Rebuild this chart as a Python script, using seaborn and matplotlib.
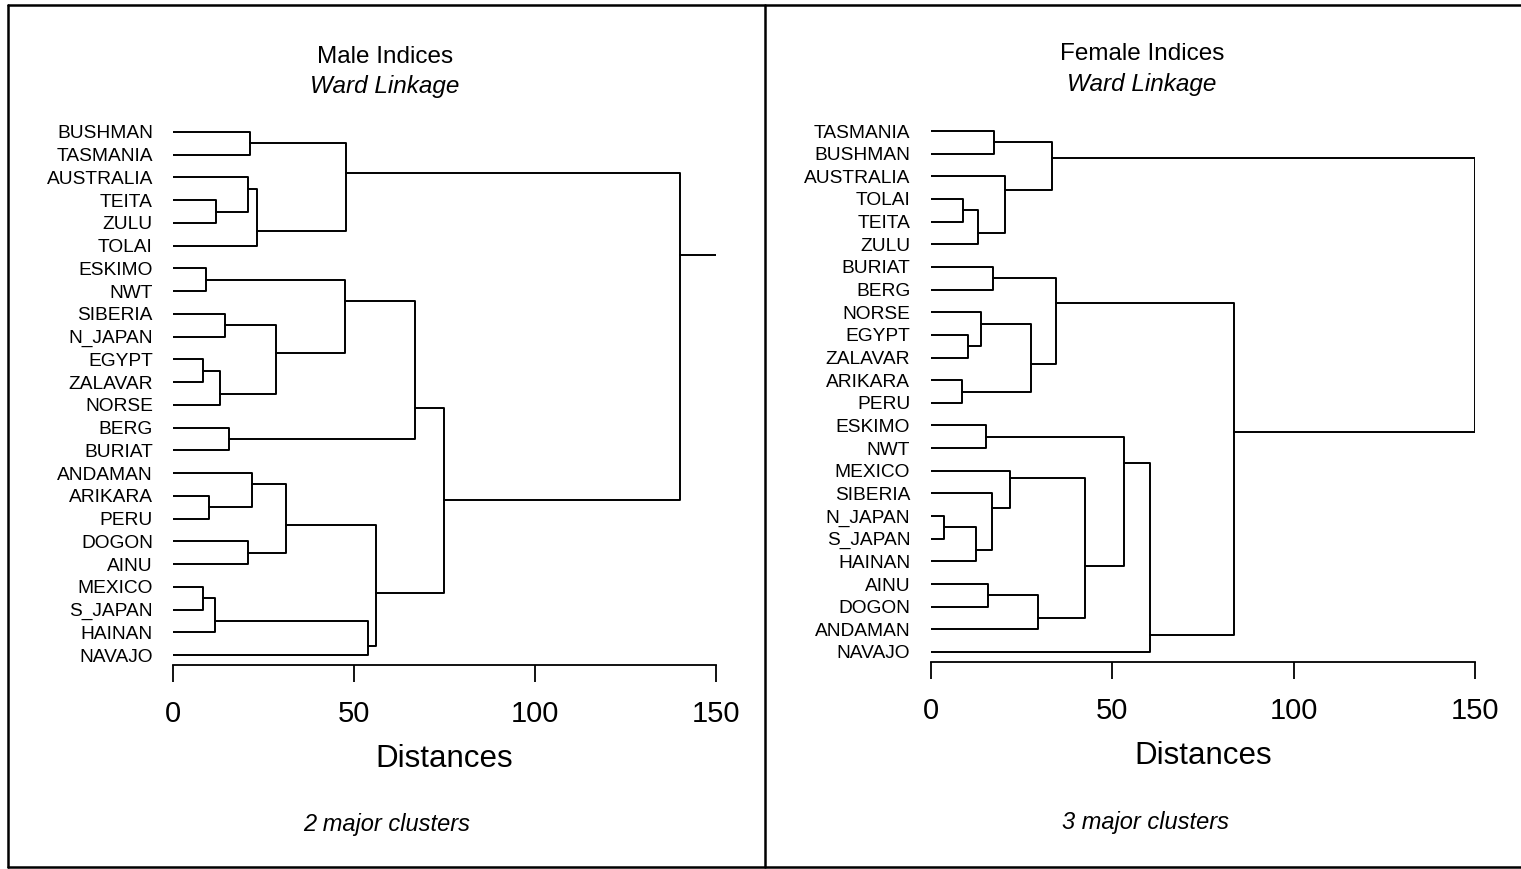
import matplotlib
matplotlib.use("Agg")
import matplotlib.pyplot as plt
from matplotlib.lines import Line2D
import numpy as np
import pandas as pd
import seaborn as sns

# ---- data: leaf order (top to bottom) and Ward merges (child a, child b, distance)
# leaves are numbered 0..23 in display order; merge k creates cluster 24 + k
male_leaves = ["BUSHMAN", "TASMANIA", "AUSTRALIA", "TEITA", "ZULU", "TOLAI",
               "ESKIMO", "NWT", "SIBERIA", "N_JAPAN", "EGYPT", "ZALAVAR",
               "NORSE", "BERG", "BURIAT", "ANDAMAN", "ARIKARA", "PERU",
               "DOGON", "AINU", "MEXICO", "S_JAPAN", "HAINAN", "NAVAJO"]
male_merges = [
    (10, 11, 8.4), (20, 21, 8.4), (6, 7, 9.0), (16, 17, 10.0),
    (25, 22, 11.7), (3, 4, 11.9), (24, 12, 13.0), (8, 9, 14.5),
    (13, 14, 15.5), (18, 19, 20.6), (2, 29, 20.7), (0, 1, 21.3),
    (15, 27, 21.9), (34, 5, 23.2), (31, 30, 28.5), (36, 33, 31.1),
    (26, 38, 47.5), (35, 37, 47.8), (28, 23, 53.9), (39, 42, 56.2),
    (40, 32, 66.9), (44, 43, 74.9), (41, 45, 140.1),
]

female_leaves = ["TASMANIA", "BUSHMAN", "AUSTRALIA", "TOLAI", "TEITA", "ZULU",
                 "BURIAT", "BERG", "NORSE", "EGYPT", "ZALAVAR", "ARIKARA",
                 "PERU", "ESKIMO", "NWT", "MEXICO", "SIBERIA", "N_JAPAN",
                 "S_JAPAN", "HAINAN", "AINU", "DOGON", "ANDAMAN", "NAVAJO"]
female_merges = [
    (17, 18, 3.6), (11, 12, 8.6), (3, 4, 8.9), (9, 10, 10.1),
    (24, 19, 12.3), (26, 5, 13.0), (8, 27, 13.7), (13, 14, 15.1),
    (20, 21, 15.6), (6, 7, 17.0), (16, 28, 16.9), (0, 1, 17.5),
    (2, 29, 20.4), (15, 34, 21.8), (30, 25, 27.5), (32, 22, 29.4),
    (35, 36, 33.3), (33, 38, 34.6), (37, 39, 42.5), (31, 42, 53.3),
    (43, 23, 60.4), (41, 44, 83.6), (40, 45, 150.0),
]

x_ticks = [0, 50, 100, 150]
x_max = 150

W, H = 1521, 869
FONT = ["Liberation Sans", "DejaVu Sans"]

sns.set_theme(style="white")
plt.rcParams["font.family"] = FONT
for key in ("text.color", "axes.labelcolor", "xtick.color", "ytick.color"):
    plt.rcParams[key] = "black"

fig = plt.figure(figsize=(W / 100, H / 100), dpi=100)


def tree_segments(leaves, merges, xmax):
    """Build the bracket polylines of a dendrogram.
    Each cluster is attached to its parent at a point weighted toward the
    smaller sibling, the way the dendrogram routine places its joins."""
    n = len(leaves)
    pos = {i: (0.0, float(i), 1) for i in range(n)}
    rows = []
    for k, (a, b, h) in enumerate(merges):
        xa, ya, na = pos[a]
        xb, yb, nb = pos[b]
        y = (nb * ya + na * yb) / (na + nb)
        for x_, y_ in [(xa, ya), (h, ya), (h, yb), (xb, yb)]:
            rows.append({"link": k, "x": x_, "y": y_})
        pos[n + k] = (h, y, na + nb)
    root_x, root_y, _ = pos[n + len(merges) - 1]
    if root_x < xmax:
        for x_ in (root_x, xmax):
            rows.append({"link": len(merges), "x": x_, "y": root_y})
    return pd.DataFrame(rows)


def draw_panel(leaves, merges, x0, x1, leaf_top, leaf_bot, axis_y, label_pad):
    step = (leaf_bot - leaf_top) / (len(leaves) - 1)
    ax_top = leaf_top - 12
    ax = fig.add_axes([x0 / W, 1 - axis_y / H, (x1 - x0) / W, (axis_y - ax_top) / H])
    segs = tree_segments(leaves, merges, x_max)
    sns.lineplot(data=segs, x="x", y="y", units="link", estimator=None,
                 sort=False, color="black", linewidth=1.4, ax=ax, legend=False)
    ax.set_xlim(0, x_max)
    ax.set_ylim((axis_y - leaf_top) / step, -(leaf_top - ax_top) / step)
    ax.set_yticks(range(len(leaves)))
    ax.set_yticklabels(leaves, fontsize=13.8)
    ax.tick_params(axis="y", length=0, pad=label_pad)
    ax.set_xticks(x_ticks)
    ax.set_xticklabels([str(t) for t in x_ticks], fontsize=21)
    ax.tick_params(axis="x", direction="out", length=12, width=1.3,
                   color="black", pad=13, bottom=True)
    ax.set_xlabel("Distances", fontsize=22.5, labelpad=12)
    ax.set_ylabel("")
    for s in ("left", "right", "top"):
        ax.spines[s].set_visible(False)
    ax.spines["bottom"].set_color("black")
    ax.spines["bottom"].set_linewidth(1.3)
    ax.set_facecolor("none")
    ax.patch.set_alpha(0)
    return ax


draw_panel(male_leaves, male_merges, 173, 716, 132, 655, 665, 14.5)
draw_panel(female_leaves, female_merges, 931, 1475, 131, 652, 662, 15)


def ftext(x, y, s, size, style="normal"):
    fig.text(x / W, 1 - y / H, s, ha="center", va="center", color="black",
             fontsize=size, style=style, family=FONT)


ftext(385, 57, "Male Indices", 17.5)
ftext(385, 87, "Ward Linkage", 17.5, "italic")
ftext(387, 825, "2 major clusters", 17, "italic")
ftext(1142, 54, "Female Indices", 17.5)
ftext(1142, 84, "Ward Linkage", 17.5, "italic")
ftext(1145, 822, "3 major clusters", 17, "italic")

# panel frames
def fline(xs, ys, lw=1.8):
    fig.add_artist(Line2D([x / W for x in xs], [1 - y / H for y in ys],
                          color="black", linewidth=lw, transform=fig.transFigure))

fline([8, 1521], [5, 5])
fline([8, 1521], [867, 867])
fline([8, 8], [5, 867])
fline([765, 765], [5, 867])

fig.savefig("out.png", dpi=100, facecolor="white")
